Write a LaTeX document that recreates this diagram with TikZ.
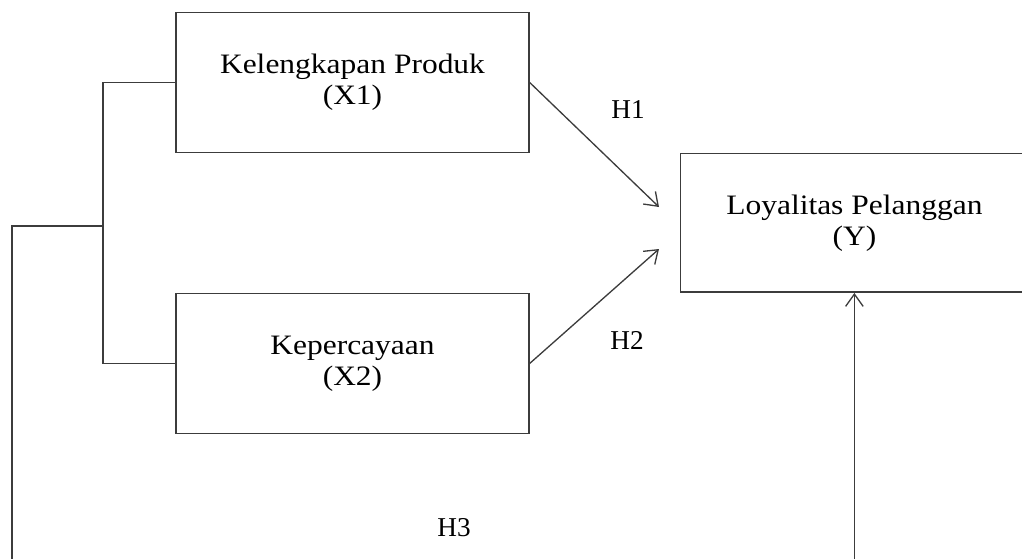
\documentclass[tikz,border=0pt]{standalone}
\usepackage{fontspec}
\setmainfont{Liberation Serif}
\newfontfamily\boxfont[FakeStretch=1.12]{Liberation Serif}
\usetikzlibrary{arrows.meta, positioning, calc}
\definecolor{linegray}{RGB}{60, 60, 60}

\begin{document}
\begin{tikzpicture}[
    x=0.02cm, y=-0.02cm,
    var/.style={draw=linegray, line width=0.85pt, minimum width=7.06cm, minimum height=2.8cm, inner sep=0pt, font=\boxfont\fontsize{16}{17.5}\selectfont, align=center},
    link/.style={linegray, line width=0.85pt},
    arrow/.style={-{Straight Barb[length=7pt, width=10pt]}, linegray, line width=0.75pt},
    hyp/.style={font=\fontsize{15.5}{17}\selectfont}
]
    \useasboundingbox (0,0) rectangle (1022,559);

    % Nodes - variables
    \node[var] (x1) at (352.5,82.5) {Kelengkapan Produk\\(X1)};
    \node[var, below=2.79cm of x1] (x2) {Kepercayaan\\(X2)};
    \node[var, minimum width=6.96cm, minimum height=2.77cm, right=3cm of $(x1.east)!0.5!(x2.east)$] (y) {Loyalitas Pelanggan\\(Y)};

    % Coordinates
    \coordinate (join) at (103,226);
    \coordinate (left) at (12,559);
    \coordinate (base) at (y.south |- left);
    \coordinate (h1tip) at (659,207);
    \coordinate (h2tip) at (659,249);

    % Connectors
    \draw[link] (x1.west) -| (join) |- (x2.west);
    \draw[link] (join) -| (left);
    \draw[arrow] (x1.east) -- (h1tip);
    \draw[arrow] (x2.east) -- (h2tip);
    \draw[arrow] (base) -- (y.south);

    % Labels
    \node[hyp] (h1) at (628,110) {H1};
    \node[hyp] (h2) at (627,340) {H2};
    \node[hyp] (h3) at (454,528) {H3};
\end{tikzpicture}
\end{document}
